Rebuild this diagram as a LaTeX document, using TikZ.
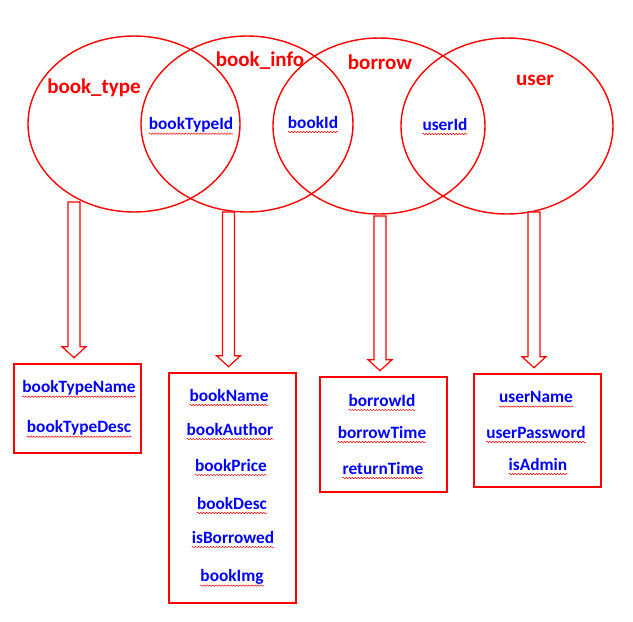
\documentclass[tikz,border=0pt]{standalone}
\usepackage{fontspec}
\setmainfont{Carlito}
\usetikzlibrary{shapes.geometric,calc,decorations.pathmorphing}
\tikzset{
  setcirc/.style={ellipse, draw=red, line width=1.4pt, minimum width=212pt, minimum height=176pt, inner sep=0pt},
  tbl/.style={red, font=\fontsize{21}{24}\selectfont\bfseries, inner sep=0pt},
  fld/.style={text=blue, font=\fontsize{17.3}{20}\selectfont\bfseries, inner sep=0pt},
  attrbox/.style={draw=red, line width=2.6pt, minimum width=127pt, inner sep=0pt},
  harrow/.style={draw=red, line width=1.2pt, fill=white, line join=miter},
  wavy/.style={draw=red, line width=0.5pt, decorate, decoration={snake, amplitude=0.7pt, segment length=3pt}}
}
\newcommand\hollowarrow[2]{%
  \draw[harrow] let \p1=(#1), \p2=(#2) in
    (\x2-6pt,\y1) -- (\x2+6pt,\y1) -- (\x2+6pt,\y2+11pt) -- (\x2+12pt,\y2+11pt)
    -- (\x2,\y2) -- (\x2-12pt,\y2+11pt) -- (\x2-6pt,\y2+11pt) -- cycle;}
\begin{document}
\begin{tikzpicture}[x=1pt,y=-1pt]
\useasboundingbox (0,0) rectangle (633,622);
% ellipses
\node[setcirc] (e1) at (134,124) {};
\node[setcirc] (e2) at (247,124) {};
\node[setcirc] (e3) at (379,126) {};
\node[setcirc] (e4) at (507,126) {};
% table names
\node[tbl] (l1) at (94,88) {book\_type};
\node[tbl] (l2) at (260,61) {book\_info};
\node[tbl] (l3) at (380,62) {borrow};
\node[tbl] (l4) at (535,80) {user};
% keys
\node[fld] (k1) at (191,125) {bookTypeId};
\node[fld] (k2) at (313,122) {bookId};
\node[fld] (k3) at (445,124) {userId};
% boxes
\node[attrbox, minimum height=89pt] (b1) at (77.5,408.5) {};
\node[attrbox, minimum height=230pt] (b2) at (232.5,488) {};
\node[attrbox, minimum height=115pt] (b3) at (383.5,434.5) {};
\node[attrbox, minimum height=113pt] (b4) at (537.5,430.5) {};
% fields
\node[fld] (f11) at (79,388) {bookTypeName};
\node[fld] (f12) at (79,428) {bookTypeDesc};
\node[fld] (f21) at (229,395) {bookName};
\node[fld] (f22) at (230,429) {bookAuthor};
\node[fld] (f23) at (231,465) {bookPrice};
\node[fld] (f24) at (232,503) {bookDesc};
\node[fld] (f25) at (233,537) {isBorrowed};
\node[fld] (f26) at (232,577) {bookImg};
\node[fld] (f31) at (382,400) {borrowId};
\node[fld] (f32) at (382,432) {borrowTime};
\node[fld] (f33) at (383,468) {returnTime};
\node[fld] (f41) at (536,397) {userName};
\node[fld] (f42) at (536,432) {userPassword};
\node[fld] (f43) at (538,464) {isAdmin};
% wavy underlines
\foreach \n in {k1,k2,k3,f11,f12,f21,f22,f23,f24,f25,f26,f31,f32,f33,f41,f42,f43}{
  \draw[wavy] ($(\n.base west)+(0pt,-4pt)$) -- ($(\n.base east)+(0pt,-4pt)$);
}
% arrow anchors
\coordinate (s1) at (74,202);
\coordinate (s2) at (228.5,212);
\coordinate (s3) at (380,216);
\coordinate (s4) at (534,212);
\coordinate (t1) at ($(b1.north)+(-3.5pt,5pt)$);
\coordinate (t2) at ($(b2.north)+(-4pt,5pt)$);
\coordinate (t3) at ($(b3.north)+(-3.5pt,5pt)$);
\coordinate (t4) at ($(b4.north)+(-3.5pt,5pt)$);
\hollowarrow{s1}{t1}
\hollowarrow{s2}{t2}
\hollowarrow{s3}{t3}
\hollowarrow{s4}{t4}
\end{tikzpicture}
\end{document}
